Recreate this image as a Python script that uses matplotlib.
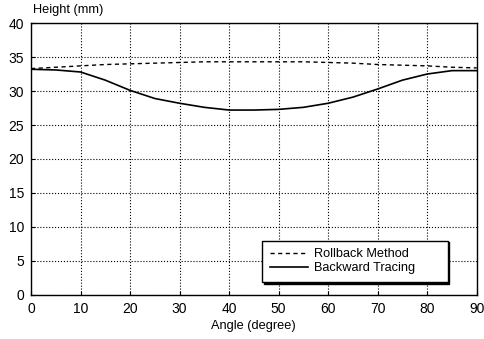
import matplotlib
matplotlib.use('Agg')
import matplotlib.pyplot as plt

plt.rcParams['font.family'] = ['Liberation Sans', 'DejaVu Sans']

angle = [0, 5, 10, 15, 20, 25, 30, 35, 40, 45, 50, 55, 60, 65, 70, 75, 80, 85, 90]
rollback = [33.3, 33.5, 33.7, 33.9, 34.0, 34.1, 34.2, 34.3, 34.3, 34.3, 34.3, 34.3, 34.2, 34.1, 33.9, 33.8, 33.7, 33.5, 33.4]
backward = [33.2, 33.1, 32.8, 31.6, 30.1, 28.9, 28.2, 27.6, 27.2, 27.2, 27.3, 27.6, 28.2, 29.1, 30.3, 31.6, 32.5, 33.0, 33.0]

fig = plt.figure(figsize=(4.84, 3.39), dpi=100)
ax = fig.add_axes([0.064, 0.130, 0.921, 0.802])

ax.plot(angle, rollback, color='black', linestyle=(0, (3, 2.5)), linewidth=1.0, label='Rollback Method')
ax.plot(angle, backward, color='black', linestyle='-', linewidth=1.2, label='Backward Tracing')

ax.set_xlim(0, 90)
ax.set_ylim(0, 40)
ax.set_xticks(range(0, 91, 10))
ax.set_yticks(range(0, 41, 5))
ax.tick_params(direction='in', labelsize=10, length=3, pad=5)
ax.grid(True, color='black', linestyle=':', linewidth=0.8)
for s in ax.spines.values():
    s.set_linewidth(1.0)

ax.set_xlabel('Angle (degree)', fontsize=9.2, labelpad=3)
ax.text(0.004, 1.025, 'Height (mm)', transform=ax.transAxes, fontsize=9.2, ha='left', va='bottom')

leg = ax.legend(loc='lower left', bbox_to_anchor=(0.518, 0.048, 0.417, 0.151), mode='expand',
                fontsize=9.2, frameon=True, fancybox=False,
                shadow={'color': 'black', 'alpha': 1.0, 'ox': 1.2, 'oy': -1.2},
                borderpad=0.6, handlelength=3.0, labelspacing=0.15, handletextpad=0.45,
                borderaxespad=0.0)
leg.get_frame().set_edgecolor('black')
leg.get_frame().set_linewidth(1.0)

fig.savefig('out.png', dpi=100)
